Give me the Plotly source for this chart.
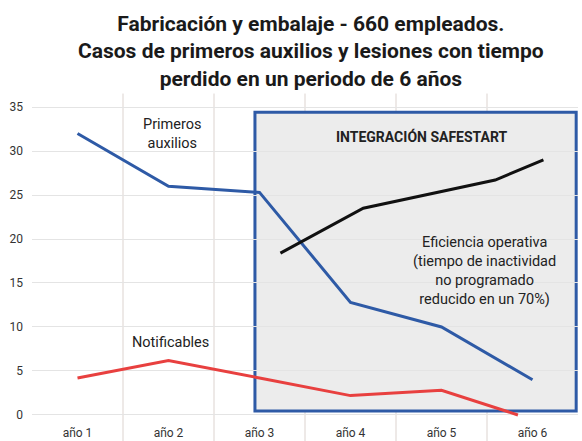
import plotly.graph_objects as go

# ---------------- data ----------------
years = ["año 1", "año 2", "año 3", "año 4", "año 5", "año 6"]
year_pos = [1, 2, 3, 4, 5, 6]

primeros_auxilios = [32.0, 26.0, 25.3, 12.8, 10.0, 4.0]

notificables_x = [1, 2, 3, 4, 5, 5.84]
notificables = [4.2, 6.2, 4.2, 2.2, 2.8, 0.0]

eficiencia_x = [3.23, 4.14, 5.59, 6.12]
eficiencia = [18.4, 23.5, 26.7, 29.0]

y_ticks = [0, 5, 10, 15, 20, 25, 30, 35]

# box marking the SafeStart integration period
BOX_X = (2.95, 6.48)
BOX_Y = (0.45, 34.4)

FONT = "Roboto"
BLUE = "#2e5aa6"
RED = "#e8403f"
BLACK = "#111111"
TXT = "#222222"

fig = go.Figure()

fig.add_trace(go.Scatter(x=year_pos, y=primeros_auxilios, mode="lines",
                         line=dict(color=BLUE, width=3), name="Primeros auxilios"))
fig.add_trace(go.Scatter(x=notificables_x, y=notificables, mode="lines",
                         line=dict(color=RED, width=3), name="Notificables"))
fig.add_trace(go.Scatter(x=eficiencia_x, y=eficiencia, mode="lines",
                         line=dict(color=BLACK, width=3), name="Eficiencia operativa"))

shapes = []
# category separators (extend beyond plot area)
for i in range(1, len(years)):
    shapes.append(dict(type="line", xref="x", yref="paper", x0=i + 0.5, x1=i + 0.5,
                       y0=-0.06, y1=1.02, line=dict(color="#dcd3cf", width=1),
                       layer="below"))
# SafeStart box
shapes.append(dict(type="rect", xref="x", yref="y", x0=BOX_X[0], x1=BOX_X[1],
                   y0=BOX_Y[0], y1=BOX_Y[1], fillcolor="#ececec",
                   line=dict(color=BLUE, width=3), layer="below"))

annotations = [
    dict(x=2.04, y=31.9, text="Primeros<br>auxilios", showarrow=False,
         font=dict(family=FONT, size=14.5, color=TXT)),
    dict(x=2.02, y=8.2, text="Notificables", showarrow=False,
         font=dict(family=FONT, size=14.5, color=TXT)),
    dict(x=4.79, y=31.6, text="<b>INTEGRACIÓN SAFESTART</b>", showarrow=False,
         font=dict(family=FONT, size=14, color=TXT)),
    dict(x=5.47, y=16.4,
         text="Eficiencia operativa<br>(tiempo de inactividad<br>no programado<br>reducido en un 70%)",
         showarrow=False, font=dict(family=FONT, size=14.5, color=TXT)),
    dict(xref="paper", yref="paper", x=0.511, y=1.28, xanchor="center", yanchor="top",
         text="<b>Fabricación y embalaje - 660 empleados.<br>Casos de primeros auxilios y lesiones con tiempo<br>perdido en un periodo de 6 años</b>",
         showarrow=False, font=dict(family=FONT, size=21, color="#1a1a1a")),
]

fig.update_layout(
    width=582, height=441,
    margin=dict(l=32, r=4, t=100, b=19, autoexpand=False),
    paper_bgcolor="white", plot_bgcolor="white",
    showlegend=False,
    shapes=shapes,
    annotations=annotations,
    font=dict(family=FONT),
    xaxis=dict(range=[0.5, 6.5], tickvals=year_pos, ticktext=years, showgrid=False,
               zeroline=False, showline=False, ticks="", automargin=False,
               tickfont=dict(family=FONT, size=12, color="#333"),
               ticklabelstandoff=2, fixedrange=True),
    yaxis=dict(range=[-0.8, 35.8], tickvals=y_ticks, showgrid=True,
               gridcolor="#e4e4e4", gridwidth=1, zeroline=False, showline=False,
               ticks="", automargin=False,
               tickfont=dict(family=FONT, size=12, color="#333"),
               ticklabelstandoff=8, fixedrange=True),
)

fig.write_html("out.html", config={"displayModeBar": False},
               post_script="document.body.style.margin='0';")
